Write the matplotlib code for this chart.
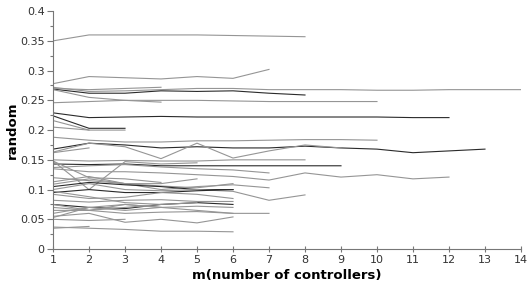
import matplotlib
matplotlib.use('Agg')
import matplotlib.pyplot as plt
from matplotlib.ticker import MultipleLocator

# one list per run, value at m = 1, 2, 3, ...
runs = [
    [0.350, 0.360, 0.360, 0.360, 0.360, 0.359, 0.358, 0.357],
    [0.278, 0.290, 0.288, 0.286, 0.290, 0.287, 0.302],
    [0.272, 0.265, 0.266, 0.268, 0.270, 0.270, 0.268, 0.268, 0.268, 0.267, 0.267, 0.268, 0.268, 0.268],
    [0.269, 0.262, 0.262, 0.266, 0.265, 0.266, 0.262, 0.259],
    [0.270, 0.268, 0.270, 0.272],
    [0.268, 0.255, 0.250, 0.247],
    [0.246, 0.248, 0.250, 0.250, 0.250, 0.249, 0.248, 0.248, 0.248, 0.248],
    [0.229, 0.221, 0.222, 0.223, 0.222, 0.222, 0.222, 0.222, 0.222, 0.222, 0.221, 0.221],
    [0.224, 0.203, 0.203],
    [0.216, 0.200, 0.200],
    [0.205, 0.200],
    [0.188, 0.183, 0.180, 0.180, 0.182, 0.182, 0.183, 0.184, 0.184, 0.183],
    [0.168, 0.178, 0.175, 0.170, 0.172, 0.170, 0.170, 0.173, 0.170, 0.168, 0.162, 0.165, 0.168],
    [0.163, 0.178, 0.172, 0.152, 0.178, 0.153, 0.165, 0.175, 0.170],
    [0.162, 0.170],
    [0.150, 0.148, 0.149, 0.148, 0.148, 0.150, 0.150, 0.150],
    [0.143, 0.142, 0.143, 0.140, 0.140, 0.140, 0.140, 0.140, 0.140],
    [0.148, 0.100, 0.147, 0.143, 0.145],
    [0.148, 0.120, 0.118, 0.112],
    [0.137, 0.140, 0.142, 0.138, 0.135, 0.133, 0.128],
    [0.135, 0.130, 0.130, 0.128, 0.125, 0.122, 0.116, 0.128, 0.121, 0.125, 0.118, 0.121],
    [0.120, 0.115, 0.110, 0.110, 0.118],
    [0.113, 0.122, 0.110, 0.106, 0.103, 0.110],
    [0.109, 0.118, 0.110, 0.100, 0.105, 0.108, 0.103],
    [0.105, 0.112, 0.108, 0.105, 0.100, 0.100],
    [0.100, 0.110, 0.100, 0.098, 0.100, 0.097, 0.082, 0.091],
    [0.095, 0.100, 0.095, 0.095, 0.098, 0.100],
    [0.097, 0.088, 0.078, 0.075],
    [0.092, 0.085, 0.087, 0.095, 0.092, 0.085],
    [0.082, 0.079, 0.082, 0.083, 0.080, 0.080],
    [0.075, 0.070, 0.068, 0.075, 0.078, 0.075],
    [0.070, 0.065, 0.075, 0.070, 0.072, 0.070],
    [0.065, 0.065, 0.060, 0.062, 0.063, 0.060, 0.060],
    [0.060, 0.070, 0.065, 0.070],
    [0.055, 0.060, 0.045, 0.050, 0.044, 0.054],
    [0.050, 0.048, 0.050],
    [0.037, 0.035, 0.033, 0.030, 0.030, 0.029],
    [0.035, 0.038],
    [0.053, 0.070, 0.075, 0.070, 0.065, 0.060],
    [0.075, 0.065, 0.070, 0.075, 0.078],
]
dark_runs = [3, 7, 8, 12, 16, 24, 26, 30]

x_ticks = list(range(1, 15))
y_ticks = [0, 0.05, 0.1, 0.15, 0.2, 0.25, 0.3, 0.35, 0.4]
y_tick_labels = ['0', '0.05', '0.1', '0.15', '0.2', '0.25', '0.3', '0.35', '0.4']

fig = plt.figure(figsize=(5.28, 2.93), dpi=100)
ax = fig.add_axes([0.1004, 0.150, 0.8863, 0.812])

for i, vals in enumerate(runs):
    m = list(range(1, len(vals) + 1))
    color = '#2a2a2a' if i in dark_runs else '#959595'
    ax.plot(m, vals, color=color, linewidth=0.8)

ax.set_xlim(1, 14)
ax.set_ylim(0, 0.4)
ax.set_xticks(x_ticks)
ax.set_yticks(y_ticks)
ax.set_yticklabels(y_tick_labels)
ax.yaxis.set_minor_locator(MultipleLocator(0.025))

for side in ['top', 'right']:
    ax.spines[side].set_visible(False)
for side in ['left', 'bottom']:
    ax.spines[side].set_color('#777777')
    ax.spines[side].set_linewidth(0.8)

ax.tick_params(axis='x', direction='inout', length=5, width=0.8, color='#777777',
               labelsize=8, labelcolor='#333333', pad=2)
ax.tick_params(axis='y', which='major', direction='out', length=4, width=0.8, color='#777777',
               labelsize=8, labelcolor='#333333', pad=2)
ax.tick_params(axis='y', which='minor', direction='out', length=2, width=0.8, color='#777777')

ax.set_xlabel('m(number of controllers)', fontsize=9.5, fontweight='bold', labelpad=3)
ax.set_ylabel('random', fontsize=9.5, fontweight='bold', labelpad=1)

fig.savefig('out.png', dpi=100)
